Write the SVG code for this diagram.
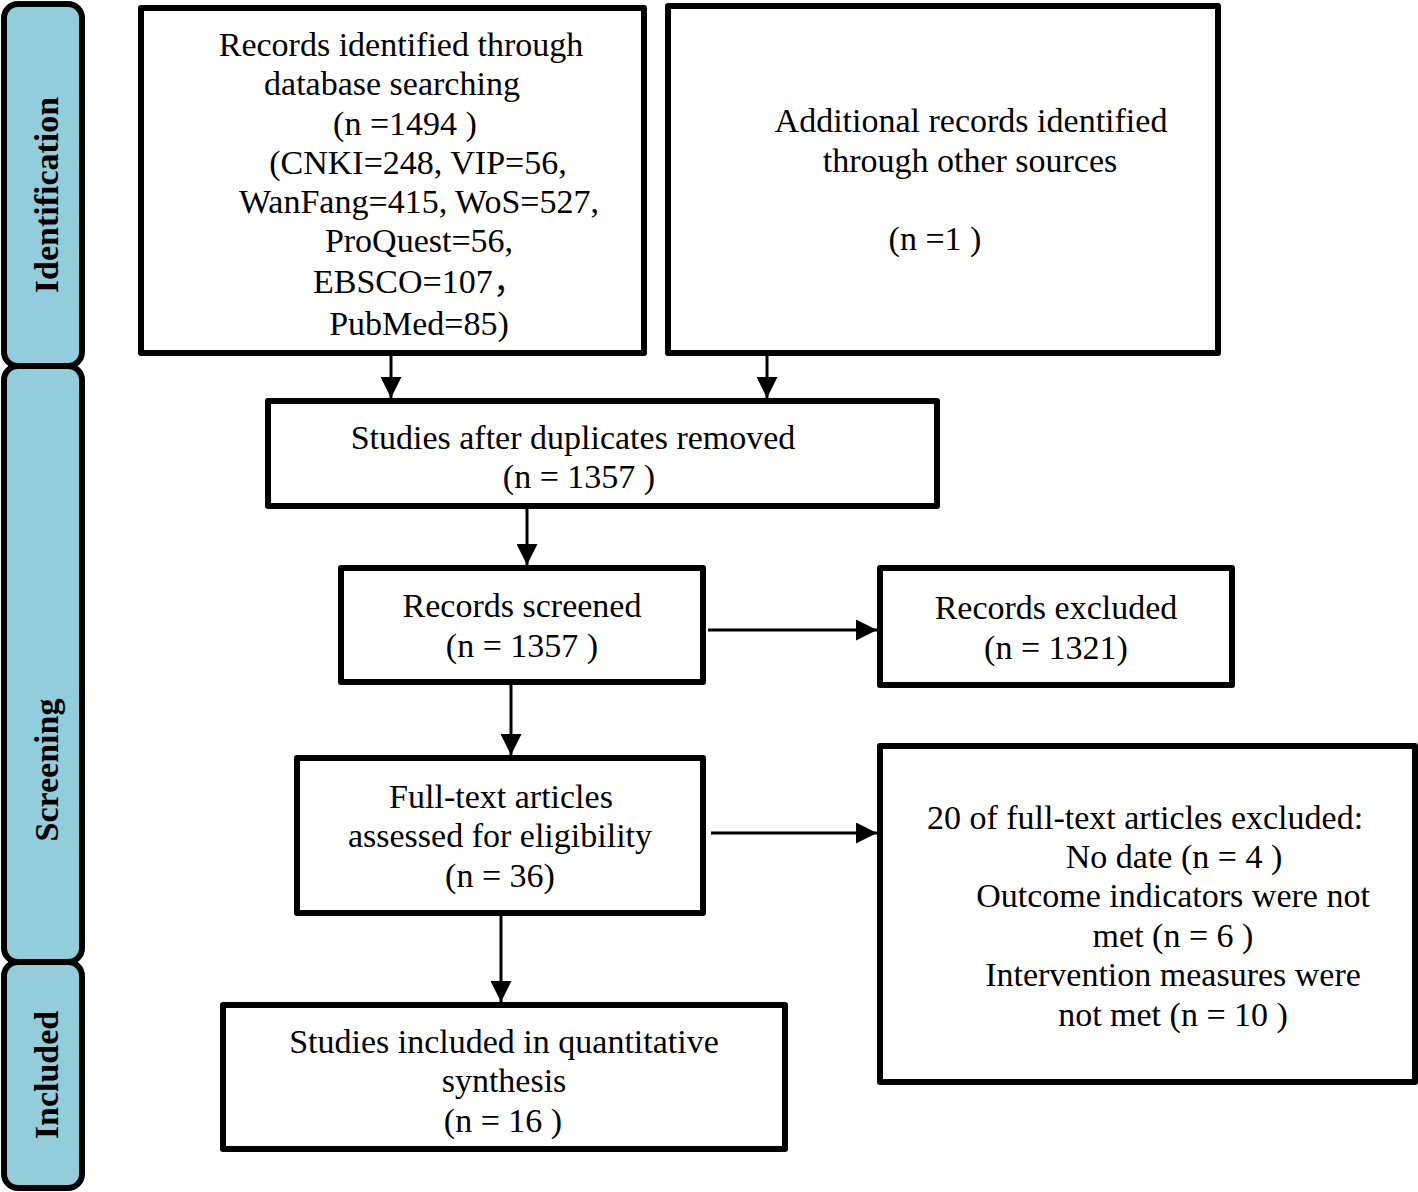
<svg xmlns="http://www.w3.org/2000/svg" width="1418" height="1192" viewBox="0 0 1418 1192">
<defs>
<marker id="ah" viewBox="0 0 10 10" refX="10" refY="5" markerWidth="7" markerHeight="7" markerUnits="strokeWidth" orient="auto">
<path d="M0,0 L10,5 L0,10 z" fill="#000"/>
</marker>
<style>
.box{fill:#fff;stroke:#000;stroke-width:6;stroke-linejoin:round}
.side{fill:#92CDDC;stroke:#000;stroke-width:6}
.t{font-family:"Liberation Serif","Times New Roman",serif;font-size:34px;fill:#000;text-anchor:middle}
.s{font-family:"Liberation Serif","Times New Roman",serif;font-size:34px;font-weight:bold;fill:#000;text-anchor:middle;dominant-baseline:central}
.cjk{font-family:"Noto Sans CJK SC",sans-serif}
.c{stroke:#000;stroke-width:3;fill:none}
</style>
</defs>
<rect width="1418" height="1192" fill="#fff"/>
<g id="side-identification">
<rect class="side" x="4" y="4" width="78" height="362" rx="14"/>
<text class="s" transform="translate(46,195) rotate(-90)">Identification</text>
</g>
<g id="side-screening">
<rect class="side" x="4" y="366" width="78" height="596" rx="14"/>
<text class="s" transform="translate(46,770) rotate(-90)">Screening</text>
</g>
<g id="side-included">
<rect class="side" x="4" y="962" width="78" height="226" rx="14"/>
<text class="s" transform="translate(46,1075) rotate(-90)">Included</text>
</g>
<g id="records-identified">
<rect class="box" x="141" y="8" width="503" height="345"/>
<text class="t" x="401" y="56">Records identified through</text>
<text class="t" x="392" y="95">database searching</text>
<text class="t" x="405" y="135">(n =1494 )</text>
<text class="t" x="418" y="174">(CNKI=248, VIP=56,</text>
<text class="t" x="419" y="213">WanFang=415, WoS=527,</text>
<text class="t" x="419" y="252">ProQuest=56,</text>
<text class="t" x="313" y="293" style="text-anchor:start">EBSCO=107<tspan class="cjk">，</tspan></text>
<text class="t" x="419" y="335">PubMed=85)</text>
</g>
<g id="additional-records">
<rect class="box" x="668" y="6" width="550" height="347"/>
<text class="t" x="971" y="132">Additional records identified</text>
<text class="t" x="970" y="172">through other sources</text>
<text class="t" x="935" y="250">(n =1 )</text>
</g>
<g id="duplicates-removed">
<rect class="box" x="268" y="401" width="669" height="105"/>
<text class="t" x="573" y="449">Studies after duplicates removed</text>
<text class="t" x="579" y="488">(n = 1357 )</text>
</g>
<g id="records-screened">
<rect class="box" x="341" y="568" width="362" height="114"/>
<text class="t" x="522" y="617">Records screened</text>
<text class="t" x="522" y="657">(n = 1357 )</text>
</g>
<g id="records-excluded">
<rect class="box" x="880" y="568" width="352" height="117"/>
<text class="t" x="1056" y="619">Records excluded</text>
<text class="t" x="1056" y="659">(n = 1321)</text>
</g>
<g id="full-text">
<rect class="box" x="297" y="758" width="406" height="155"/>
<text class="t" x="501" y="808">Full-text articles</text>
<text class="t" x="500" y="847">assessed for eligibility</text>
<text class="t" x="500" y="887">(n = 36)</text>
</g>
<g id="full-text-excluded">
<rect class="box" x="880" y="746" width="535" height="336"/>
<text class="t" x="1145" y="829">20 of full-text articles excluded:</text>
<text class="t" x="1174" y="868">No date (n = 4 )</text>
<text class="t" x="1173" y="907">Outcome indicators were not</text>
<text class="t" x="1173" y="947">met (n = 6 )</text>
<text class="t" x="1173" y="986">Intervention measures were</text>
<text class="t" x="1173" y="1026">not met (n = 10 )</text>
</g>
<g id="studies-included">
<rect class="box" x="223" y="1005" width="562" height="144"/>
<text class="t" x="504" y="1053">Studies included in quantitative</text>
<text class="t" x="504" y="1092">synthesis</text>
<text class="t" x="503" y="1132">(n = 16 )</text>
</g>
<g id="connectors">
<line class="c" x1="391" y1="356" x2="391" y2="398" marker-end="url(#ah)"/>
<line class="c" x1="767" y1="356" x2="767" y2="398" marker-end="url(#ah)"/>
<line class="c" x1="527" y1="509" x2="527" y2="565" marker-end="url(#ah)"/>
<line class="c" x1="511" y1="685" x2="511" y2="755" marker-end="url(#ah)"/>
<line class="c" x1="501" y1="916" x2="501" y2="1002" marker-end="url(#ah)"/>
<line class="c" x1="708" y1="630" x2="877" y2="630" marker-end="url(#ah)"/>
<line class="c" x1="711" y1="833" x2="877" y2="833" marker-end="url(#ah)"/>
</g>
</svg>
